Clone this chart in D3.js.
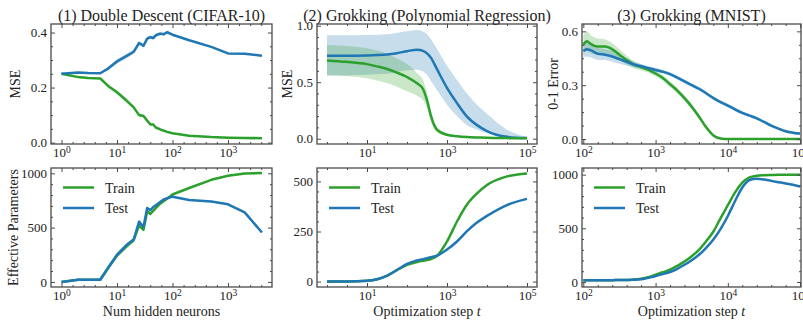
<!DOCTYPE html>
<html>
<head>
<meta charset="utf-8">
<script src="https://cdn.jsdelivr.net/npm/d3@7"></script>
<style>
  body { margin: 0; background: #fff; }
  svg text { font-family: "Liberation Serif", "DejaVu Serif", serif; fill: #222; }
</style>
</head>
<body>
<div id="wrapper"></div>
<script>
// ---- data ----
// (1) double descent, CIFAR-10
const neurons = [1, 2, 3, 5, 7, 10, 15, 20, 25, 30, 35, 40, 45, 50, 60, 70, 80, 100, 200, 500, 1000, 2000, 4096]
const ddTestMSE = [0.25, 0.255, 0.253, 0.252, 0.27, 0.295, 0.315, 0.33, 0.362, 0.352, 0.378, 0.383, 0.38, 0.39, 0.396, 0.394, 0.401, 0.392, 0.372, 0.348, 0.324, 0.323, 0.316]
const ddTrainMSE = [0.25, 0.238, 0.235, 0.233, 0.205, 0.183, 0.152, 0.128, 0.10, 0.097, 0.08, 0.066, 0.066, 0.055, 0.048, 0.043, 0.039, 0.034, 0.025, 0.02, 0.018, 0.017, 0.016]
const ddTestMSEStd = [0.002, 0.002, 0.002, 0.002, 0.006, 0.008, 0.008, 0.008, 0.007, 0.007, 0.007, 0.006, 0.006, 0.006, 0.006, 0.005, 0.005, 0.004, 0.003, 0.003, 0.002, 0.002, 0.002]
const ddTrainMSEStd = [0.002, 0.003, 0.003, 0.003, 0.006, 0.007, 0.007, 0.007, 0.006, 0.006, 0.005, 0.005, 0.004, 0.004, 0.003, 0.003, 0.003, 0.002, 0.002, 0.002, 0.002, 0.002, 0.002]
const ddTrainEff = [0, 20, 20, 20, 130, 245, 330, 385, 520, 480, 650, 625, 655, 680, 720, 745, 765, 805, 865, 940, 978, 998, 1003]
const ddTestEff = [0, 20, 20, 20, 135, 248, 340, 390, 555, 505, 680, 660, 690, 705, 735, 760, 770, 785, 755, 740, 715, 640, 455]
const ddTrainEffStd = [2, 3, 3, 3, 15, 25, 25, 20, 20, 15, 15, 12, 10, 10, 8, 6, 6, 5, 5, 4, 3, 3, 3]
const ddTestEffStd = [2, 3, 3, 3, 12, 20, 20, 16, 16, 12, 12, 10, 8, 8, 6, 5, 5, 4, 4, 4, 3, 3, 3]

// (2) grokking, polynomial regression
const polySteps = [1, 3, 10, 18, 32, 56, 100, 178, 251, 316, 398, 562, 1000, 1778, 3162, 5623, 10000, 31623, 100000]
const polyTestMSE = [0.735, 0.735, 0.737, 0.74, 0.745, 0.757, 0.774, 0.788, 0.777, 0.755, 0.715, 0.615, 0.45, 0.315, 0.195, 0.12, 0.068, 0.017, 0.005]
const polyTestHi = [0.915, 0.915, 0.918, 0.92, 0.925, 0.935, 0.95, 0.962, 0.948, 0.925, 0.88, 0.795, 0.645, 0.52, 0.40, 0.30, 0.22, 0.08, 0.015]
const polyTestLo = [0.557, 0.56, 0.565, 0.57, 0.575, 0.59, 0.605, 0.61, 0.595, 0.565, 0.51, 0.43, 0.30, 0.20, 0.12, 0.08, 0.05, 0.01, 0.0]
const polyTrainMSE = [0.693, 0.68, 0.66, 0.64, 0.617, 0.585, 0.546, 0.49, 0.44, 0.34, 0.20, 0.08, 0.035, 0.022, 0.015, 0.011, 0.008, 0.005, 0.003]
const polyTrainHi = [0.83, 0.82, 0.80, 0.78, 0.75, 0.71, 0.66, 0.58, 0.52, 0.41, 0.25, 0.10, 0.045, 0.03, 0.02, 0.015, 0.01, 0.007, 0.005]
const polyTrainLo = [0.565, 0.555, 0.535, 0.515, 0.49, 0.46, 0.42, 0.38, 0.34, 0.27, 0.15, 0.055, 0.025, 0.015, 0.01, 0.008, 0.006, 0.003, 0.001]
const polyTrainEff = [0, 0.5, 4, 12, 30, 57, 83, 98, 104, 108, 113, 128, 200, 300, 385, 440, 482, 525, 540]
const polyTestEff = [0, 0.5, 4, 12, 30, 58, 88, 106, 112, 117, 122, 130, 160, 200, 252, 295, 328, 382, 413]
const polyEffStd = [0, 0, 1, 1, 2, 2, 3, 3, 3, 3, 3, 3, 4, 4, 5, 5, 5, 5, 5]

// (3) grokking, MNIST
const mnistSteps = [100, 112, 126, 158, 200, 251, 316, 398, 501, 631, 794, 1000, 1259, 1585, 1995, 2512, 3162, 3981, 5012, 6310, 7943, 10000, 12589, 15849, 19953, 25119, 31623, 39811, 50119, 63096, 79433, 100000]
const mnistTestErr = [0.49, 0.50, 0.495, 0.475, 0.47, 0.46, 0.445, 0.43, 0.415, 0.405, 0.395, 0.385, 0.375, 0.362, 0.342, 0.321, 0.30, 0.28, 0.255, 0.228, 0.205, 0.186, 0.165, 0.145, 0.13, 0.115, 0.095, 0.074, 0.058, 0.043, 0.035, 0.03]
const mnistTrainErr = [0.525, 0.545, 0.53, 0.515, 0.515, 0.50, 0.47, 0.44, 0.415, 0.40, 0.385, 0.365, 0.34, 0.305, 0.27, 0.228, 0.18, 0.125, 0.065, 0.02, 0.003, 0, 0, 0, 0, 0, 0, 0, 0, 0, 0, 0]
const mnistTestErrStd = [0.035, 0.04, 0.04, 0.035, 0.03, 0.03, 0.025, 0.02, 0.015, 0.012, 0.012, 0.012, 0.01, 0.01, 0.01, 0.01, 0.01, 0.01, 0.01, 0.01, 0.01, 0.01, 0.01, 0.01, 0.008, 0.008, 0.008, 0.008, 0.008, 0.008, 0.008, 0.008]
const mnistTrainErrStd = [0.05, 0.055, 0.05, 0.045, 0.04, 0.035, 0.03, 0.025, 0.02, 0.018, 0.016, 0.016, 0.016, 0.016, 0.016, 0.016, 0.016, 0.014, 0.012, 0.008, 0.003, 0.002, 0, 0, 0, 0, 0, 0, 0, 0, 0, 0]
const mnistTrainEff = [15, 15, 15, 16, 16, 17, 18, 19, 22, 30, 45, 68, 90, 115, 150, 190, 240, 300, 380, 470, 595, 715, 835, 925, 975, 990, 995, 997, 998, 999, 1000, 1000]
const mnistTestEff = [15, 15, 15, 16, 16, 17, 18, 19, 20, 25, 38, 55, 73, 93, 123, 160, 203, 253, 318, 395, 495, 615, 755, 880, 950, 962, 955, 942, 930, 918, 905, 890]
const mnistEffStd = [2, 2, 2, 2, 2, 2, 2, 2, 2, 3, 3, 4, 4, 4, 5, 5, 5, 6, 6, 6, 6, 6, 6, 6, 5, 5, 5, 5, 5, 5, 5, 5]

const seriesNames = ["Train", "Test"]
const titles = ["(1) Double Descent (CIFAR-10)", "(2) Grokking (Polynomial Regression)", "(3) Grokking (MNIST)"]

const green = "#2ca02c"
const blue = "#1f77b4"
const tickColor = "#4a4a4a"

function drawChart() {
  const svg = d3.select("#wrapper").append("svg")
      .attr("width", 803)
      .attr("height", 320)

  const cols = [{l: 51, r: 272}, {l: 317, r: 537}, {l: 582, r: 801}]
  const rows = [{t: 24, b: 144}, {t: 168, b: 287}]

  const band = (xs, lo, hi) => xs.map((x, i) => ({x, lo: lo[i], hi: hi[i]}))
  const pm = (xs, m, s) => band(xs, m.map((v, i) => v - s[i]), m.map((v, i) => v + s[i]))
  const pts = (xs, ys) => xs.map((x, i) => ({x, y: ys[i]}))

  const panels = [
    { col: 0, row: 0, xExp: [-0.189, 3.793], yDom: [-0.005, 0.431], xMajor: [0, 1, 2, 3], xMinor: 0.2,
      yTicks: [0, 0.2, 0.4], yMinor: 0.05, yFmt: d3.format(".1f"), curve: d3.curveLinear,
      title: titles[0], ylabel: "MSE", ylabelX: 20,
      series: [
        {c: green, line: pts(neurons, ddTrainMSE), band: pm(neurons, ddTrainMSE, ddTrainMSEStd)},
        {c: blue, line: pts(neurons, ddTestMSE), band: pm(neurons, ddTestMSE, ddTestMSEStd)}]},
    { col: 0, row: 1, xExp: [-0.189, 3.793], yDom: [-47, 1049], xMajor: [0, 1, 2, 3], xMinor: 0.2,
      yTicks: [0, 500, 1000], yMinor: 100, yFmt: d3.format("d"), curve: d3.curveLinear,
      ylabel: "Effective Parameters", ylabelX: 17.5, xlabel: "Num hidden neurons", legend: true,
      series: [
        {c: green, line: pts(neurons, ddTrainEff), band: pm(neurons, ddTrainEff, ddTrainEffStd)},
        {c: blue, line: pts(neurons, ddTestEff), band: pm(neurons, ddTestEff, ddTestEffStd)}]},
    { col: 1, row: 0, xExp: [-0.25, 5.25], yDom: [-0.047, 1.015], xMajor: [1, 3, 5], xMinor: 0.5,
      yTicks: [0, 0.5, 1.0], yMinor: 0.1, yFmt: d3.format(".1f"), curve: d3.curveMonotoneX,
      title: titles[1], ylabel: "MSE", ylabelX: 291.5,
      series: [
        {c: blue, line: pts(polySteps, polyTestMSE), band: band(polySteps, polyTestLo, polyTestHi)},
        {c: green, line: pts(polySteps, polyTrainMSE), band: band(polySteps, polyTrainLo, polyTrainHi)}]},
    { col: 1, row: 1, xExp: [-0.25, 5.25], yDom: [-27, 567], xMajor: [1, 3, 5], xMinor: 0.5,
      yTicks: [0, 250, 500], yMinor: 50, yFmt: d3.format("d"), curve: d3.curveMonotoneX,
      xlabel: "Optimization step", legend: true,
      series: [
        {c: green, line: pts(polySteps, polyTrainEff), band: pm(polySteps, polyTrainEff, polyEffStd)},
        {c: blue, line: pts(polySteps, polyTestEff), band: pm(polySteps, polyTestEff, polyEffStd)}]},
    { col: 2, row: 0, xExp: [1.982, 5.012], yDom: [-0.028, 0.641], xMajor: [2, 3, 4, 5], xMinor: 0.2,
      yTicks: [0, 0.3, 0.6], yMinor: 0.075, yFmt: d3.format(".1f"), curve: d3.curveMonotoneX,
      title: titles[2], ylabel: "0-1 Error", ylabelX: 558,
      series: [
        {c: green, line: pts(mnistSteps, mnistTrainErr), band: pm(mnistSteps, mnistTrainErr, mnistTrainErrStd)},
        {c: blue, line: pts(mnistSteps, mnistTestErr), band: pm(mnistSteps, mnistTestErr, mnistTestErrStd)}]},
    { col: 2, row: 1, xExp: [1.982, 5.012], yDom: [-47, 1062], xMajor: [2, 3, 4, 5], xMinor: 0.2,
      yTicks: [0, 500, 1000], yMinor: 100, yFmt: d3.format("d"), curve: d3.curveMonotoneX,
      xlabel: "Optimization step", legend: true,
      series: [
        {c: green, line: pts(mnistSteps, mnistTrainEff), band: pm(mnistSteps, mnistTrainEff, mnistEffStd)},
        {c: blue, line: pts(mnistSteps, mnistTestEff), band: pm(mnistSteps, mnistTestEff, mnistEffStd)}]},
  ]

  panels.forEach(p => {
    const {l, r} = cols[p.col]
    const {t, b} = rows[p.row]
    const x = d3.scaleLog().domain([10 ** p.xExp[0], 10 ** p.xExp[1]]).range([l, r])
    const y = d3.scaleLinear().domain(p.yDom).range([b, t])
    const g = svg.append("g")

    // bands + lines
    const area = d3.area().curve(p.curve)
      .x(d => x(d.x)).y0(d => y(d.lo)).y1(d => y(d.hi))
    const line = d3.line().curve(p.curve)
      .x(d => x(d.x)).y(d => y(d.y))
    p.series.forEach(s => {
      g.append("path").datum(s.band).attr("d", area)
        .attr("fill", s.c).attr("fill-opacity", 0.25)
    })
    p.series.forEach(s => {
      g.append("path").datum(s.line).attr("d", line)
        .attr("fill", "none").attr("stroke", s.c).attr("stroke-width", 2.5)
        .attr("stroke-linejoin", "round").attr("stroke-linecap", "butt")
    })

    // ticks (inward, all four sides)
    const xMaj = p.xMajor.map(e => 10 ** e)
    const xMin = d3.range(Math.ceil(p.xExp[0] / p.xMinor) * p.xMinor, p.xExp[1], p.xMinor)
      .filter(e => Math.abs(e - Math.round(e)) > 1e-6 || !p.xMajor.includes(Math.round(e)))
      .map(e => 10 ** e)
    const yMin = d3.range(Math.ceil(p.yDom[0] / p.yMinor) * p.yMinor, p.yDom[1], p.yMinor)
      .filter(v => !p.yTicks.some(tv => Math.abs(tv - v) < 1e-9))

    const tickGroup = (axis, scale, tr, vals, size) => {
      const sel = g.append("g").attr("transform", tr)
        .call(axis(scale).tickValues(vals).tickSize(-size).tickPadding(4).tickFormat(""))
      sel.select(".domain").remove()
      sel.selectAll("line").attr("stroke", tickColor).attr("stroke-width", 1)
      return sel
    }
    const xb = tickGroup(d3.axisBottom, x, `translate(0,${b})`, xMaj, 4)
    tickGroup(d3.axisBottom, x, `translate(0,${b})`, xMin, 2)
    tickGroup(d3.axisTop, x, `translate(0,${t})`, xMaj, 4)
    tickGroup(d3.axisTop, x, `translate(0,${t})`, xMin, 2)
    const yl = tickGroup(d3.axisLeft, y, `translate(${l},0)`, p.yTicks, 4)
    tickGroup(d3.axisLeft, y, `translate(${l},0)`, yMin, 2)
    tickGroup(d3.axisRight, y, `translate(${r},0)`, p.yTicks, 4)
    tickGroup(d3.axisRight, y, `translate(${r},0)`, yMin, 2)

    // labels
    xb.selectAll(".tick text")
      .attr("font-size", 13)
      .attr("dy", "0.66em")
      .each(function(d) {
        const txt = d3.select(this)
        txt.append("tspan").text("10")
        txt.append("tspan").attr("dy", "-0.42em").attr("font-size", "9.5px").text(Math.round(Math.log10(d)))
      })
    yl.selectAll(".tick text")
      .attr("font-size", 13)
      .text(p.yFmt)

    // frame
    g.append("rect")
      .attr("x", l).attr("y", t).attr("width", r - l).attr("height", b - t)
      .attr("fill", "none").attr("stroke", tickColor).attr("stroke-width", 1.3)

    if (p.title) {
      g.append("text").attr("x", (l + r) / 2).attr("y", 21)
        .attr("text-anchor", "middle").attr("font-size", 16).text(p.title)
    }
    if (p.ylabel) {
      g.append("text")
        .attr("transform", `translate(${p.ylabelX},${(t + b) / 2}) rotate(-90)`)
        .attr("text-anchor", "middle").attr("font-size", 14).text(p.ylabel)
    }
    if (p.xlabel) {
      const xt = g.append("text").attr("x", (l + r) / 2).attr("y", 316)
        .attr("text-anchor", "middle").attr("font-size", 14)
      xt.append("tspan").text(p.xlabel)
      if (p.xlabel.startsWith("Optimization")) {
        xt.append("tspan").text(" ")
        xt.append("tspan").attr("font-style", "italic").text("t")
      }
    }
    if (p.legend) {
      const leg = g.append("g").attr("transform", `translate(${l},${t})`)
      const colors = [green, blue]
      seriesNames.forEach((name, i) => {
        const yy = 19.5 + i * 20.5
        leg.append("line").attr("x1", 12).attr("x2", 43).attr("y1", yy).attr("y2", yy)
          .attr("stroke", colors[i]).attr("stroke-width", 2.5)
        leg.append("text").attr("x", 54).attr("y", yy + 5).attr("font-size", 14).text(name)
      })
    }
  })
}

drawChart()
</script>
</body>
</html>
